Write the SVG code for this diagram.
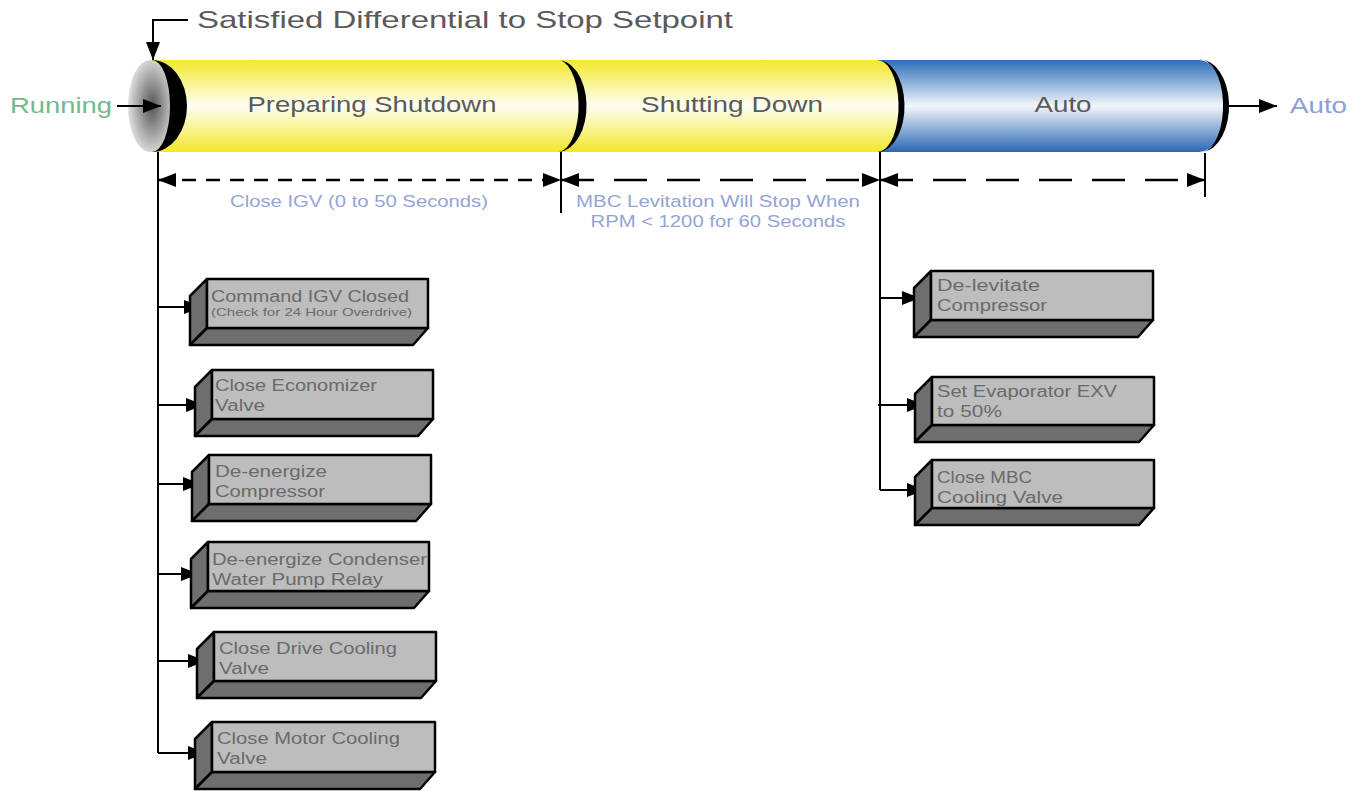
<svg xmlns="http://www.w3.org/2000/svg" width="1363" height="791" viewBox="0 0 1363 791">
<defs>
<linearGradient id="gy" gradientUnits="userSpaceOnUse" x1="0" y1="60" x2="0" y2="152">
<stop offset="0" stop-color="#f2e82a"/><stop offset="0.5" stop-color="#fffef4"/><stop offset="1" stop-color="#f2e82a"/>
</linearGradient>
<linearGradient id="gb" gradientUnits="userSpaceOnUse" x1="0" y1="60" x2="0" y2="152">
<stop offset="0" stop-color="#2d6db8"/><stop offset="0.5" stop-color="#f2f6fb"/><stop offset="1" stop-color="#2a68b3"/>
</linearGradient>
<radialGradient id="gg" cx="0.55" cy="0.5" r="0.6">
<stop offset="0" stop-color="#555"/><stop offset="1" stop-color="#ececec"/>
</radialGradient>
<marker id="ah" markerWidth="18" markerHeight="14" refX="18" refY="7" orient="auto-start-reverse" markerUnits="userSpaceOnUse">
<path d="M0,0 L18,7 L0,14 Z" fill="#000"/>
</marker>
<style>
.ln{fill:none;stroke:#000;stroke-width:2}
.d1{fill:none;stroke:#000;stroke-width:2.5;stroke-dasharray:14 10}
.d2{fill:none;stroke:#000;stroke-width:2.5;stroke-dasharray:33 20}
.arr{marker-end:url(#ah)}
.dim{marker-start:url(#ah);marker-end:url(#ah)}
.front{fill:#bdbdbd;stroke:#000;stroke-width:2.5;stroke-linejoin:round}
.side{fill:#6e6e6e;stroke:#000;stroke-width:2.5;stroke-linejoin:round}
.bt{font-family:"Liberation Sans",Arial,sans-serif;font-size:16px;fill:#6a6a6a}
.sm{font-size:11px}
.hd{font-family:"Liberation Sans",Arial,sans-serif;font-size:22px;fill:#5a5a5a}
.lb{font-family:"Liberation Sans",Arial,sans-serif;font-size:16px;fill:#94a4d4}
.cr{fill:#000}
</style>
</defs>
<rect width="1363" height="791" fill="#fff"/>

<g id="cylinder">
<rect x="870" y="60" width="330" height="92" fill="url(#gb)"/>
<ellipse cx="1199" cy="106" rx="27" ry="46" fill="url(#gb)"/>
<rect x="152" y="60" width="726" height="92" fill="url(#gy)"/>
<ellipse cx="876" cy="106" rx="26" ry="46" fill="url(#gy)"/>
<ellipse cx="150" cy="106" rx="22" ry="46" fill="url(#gg)"/>
<path class="cr" d="M152,60 A35,46 0 0 1 152,152 A18,46 0 0 0 152,60 Z"/>
<path class="cr" d="M556,60 A29,46 0 0 1 559,152 A21,46 0 0 0 556,60 Z"/>
<path class="cr" d="M876,60 A27,46 0 0 1 879,152 A21,46 0 0 0 876,60 Z"/>
<path class="cr" d="M1199,60 A28,46 0 0 1 1203,152 A22,46 0 0 0 1199,60 Z"/>
<text class="hd" x="372" y="112" text-anchor="middle" textLength="249" lengthAdjust="spacingAndGlyphs">Preparing Shutdown</text>
<text class="hd" x="732" y="112" text-anchor="middle" textLength="182" lengthAdjust="spacingAndGlyphs">Shutting Down</text>
<text class="hd" x="1063" y="112" text-anchor="middle" textLength="57" lengthAdjust="spacingAndGlyphs">Auto</text>
</g>

<g id="labels">
<text x="197" y="28" font-family="Liberation Sans, Arial, sans-serif" font-size="24" fill="#5a5a5a" textLength="536" lengthAdjust="spacingAndGlyphs">Satisfied Differential to Stop Setpoint</text>
<text x="10" y="113" font-family="Liberation Sans, Arial, sans-serif" font-size="22" fill="#72b98c" textLength="102" lengthAdjust="spacingAndGlyphs">Running</text>
<text x="1290" y="113" font-family="Liberation Sans, Arial, sans-serif" font-size="22" fill="#8c9ed2" textLength="57" lengthAdjust="spacingAndGlyphs">Auto</text>
<text class="lb" x="359" y="207" text-anchor="middle" textLength="258" lengthAdjust="spacingAndGlyphs">Close IGV (0 to 50 Seconds)</text>
<text class="lb" x="718" y="207" text-anchor="middle" textLength="284" lengthAdjust="spacingAndGlyphs">MBC Levitation Will Stop When</text>
<text class="lb" x="718" y="227" text-anchor="middle" textLength="255" lengthAdjust="spacingAndGlyphs">RPM &lt; 1200 for 60 Seconds</text>
</g>

<g id="connectors">
<path class="ln arr" d="M188,20 H153 V60"/>
<path class="ln arr" d="M117,106 H161"/>
<path class="ln arr" d="M1227,106 H1277"/>
<path class="ln" d="M561,152 V213"/>
<path class="ln" d="M1205,153 V197"/>
<path class="d1 dim" d="M158,180 H561"/>
<path class="d2 dim" d="M561,180 H880"/>
<path class="d2 dim" d="M880,180 H1205"/>
<path class="ln" d="M158,152 V753"/>
<path class="ln arr" d="M158,307 H202"/>
<path class="ln arr" d="M158,405 H204"/>
<path class="ln arr" d="M158,484 H201"/>
<path class="ln arr" d="M158,574 H199"/>
<path class="ln arr" d="M158,661 H206"/>
<path class="ln arr" d="M158,753 H206"/>
<path class="ln" d="M880,152 V490"/>
<path class="ln arr" d="M880,298 H920"/>
<path class="ln arr" d="M878,405 H925"/>
<path class="ln arr" d="M880,490 H925"/>
</g>

<g id="n1">
<path class="side" d="M207,279 L190,296 V345 L207,328 Z"/>
<path class="side" d="M207,328 L190,345 H413 L428,328 Z"/>
<rect class="front" x="207" y="279" width="221" height="49"/>
<text class="bt" x="211" y="302" textLength="198" lengthAdjust="spacingAndGlyphs">Command IGV Closed</text>
<text class="bt sm" x="211" y="316" textLength="201" lengthAdjust="spacingAndGlyphs">(Check for 24 Hour Overdrive)</text>
</g>
<g id="n2">
<path class="side" d="M212,370 L195,387 V436 L212,419 Z"/>
<path class="side" d="M212,419 L195,436 H418 L433,419 Z"/>
<rect class="front" x="212" y="370" width="221" height="49"/>
<text class="bt" x="215" y="391" textLength="162" lengthAdjust="spacingAndGlyphs">Close Economizer</text>
<text class="bt" x="215" y="411" textLength="50" lengthAdjust="spacingAndGlyphs">Valve</text>
</g>
<g id="n3">
<path class="side" d="M209,455 L192,472 V521 L209,504 Z"/>
<path class="side" d="M209,504 L192,521 H416 L431,504 Z"/>
<rect class="front" x="209" y="455" width="222" height="49"/>
<text class="bt" x="215" y="477" textLength="112" lengthAdjust="spacingAndGlyphs">De-energize</text>
<text class="bt" x="215" y="497" textLength="110" lengthAdjust="spacingAndGlyphs">Compressor</text>
</g>
<g id="n4">
<path class="side" d="M208,542 L191,559 V608 L208,591 Z"/>
<path class="side" d="M208,591 L191,608 H414 L429,591 Z"/>
<rect class="front" x="208" y="542" width="221" height="49"/>
<text class="bt" x="212" y="565" textLength="215" lengthAdjust="spacingAndGlyphs">De-energize Condenser</text>
<text class="bt" x="212" y="585" textLength="171" lengthAdjust="spacingAndGlyphs">Water Pump Relay</text>
</g>
<g id="n5">
<path class="side" d="M214,632 L197,649 V698 L214,681 Z"/>
<path class="side" d="M214,681 L197,698 H421 L436,681 Z"/>
<rect class="front" x="214" y="632" width="222" height="49"/>
<text class="bt" x="219" y="654" textLength="178" lengthAdjust="spacingAndGlyphs">Close Drive Cooling</text>
<text class="bt" x="219" y="674" textLength="50" lengthAdjust="spacingAndGlyphs">Valve</text>
</g>
<g id="n6">
<path class="side" d="M212,722 L195,739 V789 L212,772 Z"/>
<path class="side" d="M212,772 L195,789 H420 L435,772 Z"/>
<rect class="front" x="212" y="722" width="223" height="50"/>
<text class="bt" x="217" y="744" textLength="183" lengthAdjust="spacingAndGlyphs">Close Motor Cooling</text>
<text class="bt" x="217" y="764" textLength="50" lengthAdjust="spacingAndGlyphs">Valve</text>
</g>
<g id="n7">
<path class="side" d="M931,271 L914,288 V337 L931,320 Z"/>
<path class="side" d="M931,320 L914,337 H1138 L1153,320 Z"/>
<rect class="front" x="931" y="271" width="222" height="49"/>
<text class="bt" x="937" y="291" textLength="103" lengthAdjust="spacingAndGlyphs">De-levitate</text>
<text class="bt" x="937" y="311" textLength="110" lengthAdjust="spacingAndGlyphs">Compressor</text>
</g>
<g id="n8">
<path class="side" d="M932,377 L915,394 V442 L932,425 Z"/>
<path class="side" d="M932,425 L915,442 H1139 L1154,425 Z"/>
<rect class="front" x="932" y="377" width="222" height="48"/>
<text class="bt" x="937" y="397" textLength="180" lengthAdjust="spacingAndGlyphs">Set Evaporator EXV</text>
<text class="bt" x="937" y="417" textLength="65" lengthAdjust="spacingAndGlyphs">to 50%</text>
</g>
<g id="n9">
<path class="side" d="M932,460 L915,477 V525 L932,508 Z"/>
<path class="side" d="M932,508 L915,525 H1139 L1154,508 Z"/>
<rect class="front" x="932" y="460" width="222" height="48"/>
<text class="bt" x="937" y="483" textLength="95" lengthAdjust="spacingAndGlyphs">Close MBC</text>
<text class="bt" x="937" y="503" textLength="126" lengthAdjust="spacingAndGlyphs">Cooling Valve</text>
</g>
</svg>
